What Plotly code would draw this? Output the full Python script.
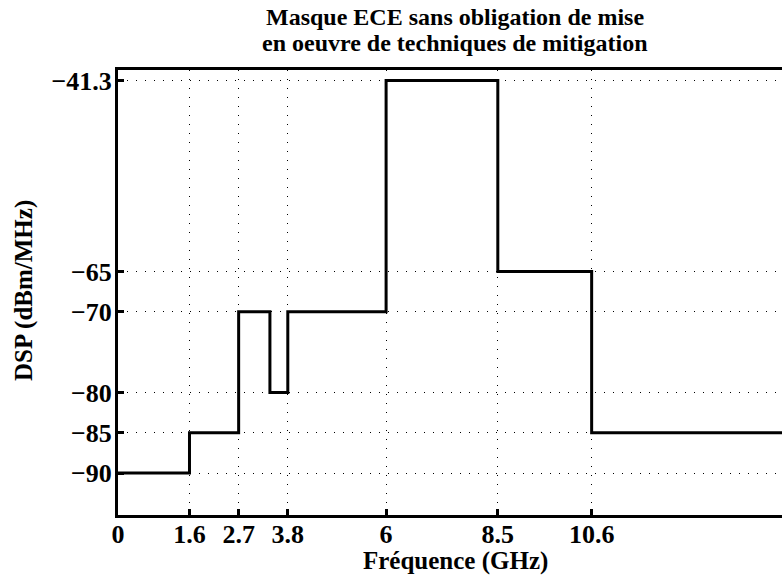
import plotly.graph_objects as go

# Spectral mask: band edges (GHz) and PSD level (dBm/MHz) held from each edge
freq_ghz = [0, 1.6, 2.7, 3.4, 3.8, 6, 8.5, 10.6, 15]
dsp_dbm = [-90, -85, -70, -80, -70, -41.3, -65, -85, -85]

x_ticks = [0, 1.6, 2.7, 3.8, 6, 8.5, 10.6]
x_ticktext = ["0", "1.6", "2.7", "3.8", "6", "8.5", "10.6"]
y_ticks = [-90, -85, -80, -70, -65, -41.3]
y_ticktext = ["\u221290", "\u221285", "\u221280", "\u221270", "\u221265", "\u221241.3"]

title_lines = ["Masque ECE sans obligation de mise",
               "en oeuvre de techniques de mitigation"]

serif = "Liberation Serif"
plot_left, plot_top, plot_bottom = 118, 70, 515  # plot area edges in px
fig_w, fig_h = 782, 576


def paper_y(px):
    return (plot_bottom - px) / (plot_bottom - plot_top)


def paper_x(px):
    return (px - plot_left) / (fig_w - plot_left)


fig = go.Figure()
fig.add_trace(go.Scatter(
    x=freq_ghz, y=dsp_dbm, mode="lines",
    line=dict(shape="hv", color="black", width=3),
    showlegend=False, hoverinfo="skip",
))

axis_common = dict(
    showline=True, linecolor="black", linewidth=3, mirror=True,
    ticks="inside", ticklen=6, tickwidth=3, tickcolor="black",
    showgrid=True, gridcolor="black", gridwidth=1, griddash="1px,8px",
    zeroline=False,
    tickfont=dict(family=serif, size=26, color="black", weight="bold"),
)

label_font = dict(family=serif, size=25, color="black", weight="bold")
title_font = dict(family=serif, size=24, color="black", weight="bold")

annotations = [
    dict(text=line, font=title_font, xref="paper", yref="paper",
         x=paper_x(455), y=paper_y(cy), xanchor="center", yanchor="middle",
         showarrow=False)
    for line, cy in zip(title_lines, [17, 43])
]
annotations += [
    dict(text="Fréquence (GHz)", font=label_font, xref="paper", yref="paper",
         x=paper_x(455), y=paper_y(561), xanchor="center", yanchor="middle",
         showarrow=False),
    dict(text="DSP (dBm/MHz)", font=label_font, xref="paper", yref="paper",
         x=paper_x(24), y=paper_y(290), xanchor="center", yanchor="middle",
         textangle=-90, showarrow=False),
]

fig.update_layout(
    width=fig_w, height=fig_h,
    margin=dict(l=plot_left, r=0, t=plot_top, b=fig_h - plot_bottom),
    paper_bgcolor="white", plot_bgcolor="white",
    xaxis=dict(
        range=[0, 14.86], tickmode="array", tickvals=x_ticks, ticktext=x_ticktext,
        ticklabelstandoff=-6,
        **axis_common,
    ),
    yaxis=dict(
        range=[-95.2, -40], tickmode="array", tickvals=y_ticks, ticktext=y_ticktext,
        ticklabelstandoff=-2,
        **axis_common,
    ),
    annotations=annotations,
)
fig.update_yaxes(mirror=False)

fig.write_html("out.html")
